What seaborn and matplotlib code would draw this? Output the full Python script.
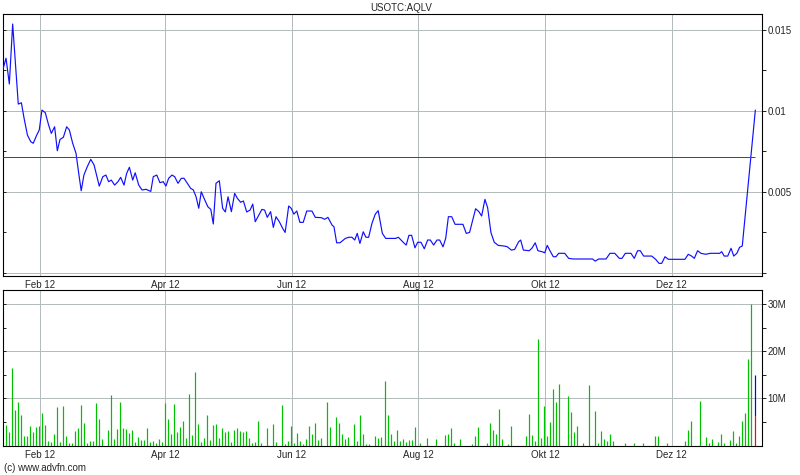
import matplotlib
matplotlib.use("Agg")
import matplotlib.pyplot as plt
import matplotlib.lines as mlines
import seaborn as sns
import pandas as pd
import numpy as np

# ---------------- data ----------------
title = "USOTC:AQLV"
footer = "(c) www.advfn.com"
base_date = "2012-01-01"

# price series: day offset from 2012-01-01 and price
price_day = [12.9, 14.5, 16.1, 17.7, 20.4, 21.9, 23.2, 24.8, 26.4, 27.6, 29.3, 30.5, 31.8, 33.4,
             35.0, 36.3, 37.9, 39.2, 40.5, 42.1, 43.7, 45.0, 46.6, 48.2, 49.5, 50.7, 52.0, 53.6,
             55.3, 56.9, 59.4, 61.1, 62.6, 63.9, 65.2, 66.8, 68.4, 69.7, 71.3, 72.6, 73.9, 75.5,
             76.7, 78.4, 80.0, 81.9, 84.2, 85.4, 87.1, 88.6, 90.2, 91.5, 92.8, 94.4, 95.7, 97.3,
             98.9, 100.2, 101.8, 103.4, 104.7, 106.0, 107.3, 108.5, 110.2, 111.7, 113.1, 114.3,
             115.6, 117.2, 118.8, 120.1, 121.4, 123.0, 124.6, 125.9, 127.5, 128.8, 130.4, 132.0,
             133.3, 134.5, 136.2, 137.7, 139.0, 140.3, 141.9, 143.2, 144.5, 146.1, 147.7, 148.9,
             150.6, 151.8, 153.1, 154.5, 156.0, 157.6, 159.3, 161.8, 163.4, 166.3, 167.9, 169.5,
             171.5, 172.4, 173.7, 175.3, 177.9, 179.5, 181.1, 182.4, 183.6, 184.9, 186.5, 187.8,
             189.1, 190.7, 192.3, 193.7, 195.7, 197.3, 202.1, 203.4, 204.7, 206.3, 207.2, 208.5,
             209.8, 211.4, 212.7, 214.3, 215.9, 217.5, 218.8, 220.4, 222.0, 223.3, 224.9, 226.2,
             227.5, 229.1, 230.7, 234.5, 236.1, 237.7, 240.6, 242.2, 243.5, 245.1, 246.4, 248.0,
             249.6, 251.5, 254.3, 255.8, 257.8, 259.4, 261.3, 262.3, 263.6, 266.4, 267.7, 269.3,
             270.6, 272.6, 273.9, 275.1, 276.4, 278.0, 279.3, 280.6, 283.5, 285.4, 287.6, 296.9,
             298.2, 299.9, 303.4, 305.3, 307.6, 309.8, 311.1, 312.7, 315.4, 317.0, 318.6, 319.9,
             321.5, 325.4, 327.3, 328.9, 330.2, 331.8, 333.4, 341.4, 343.0, 344.6, 345.9, 347.5,
             349.1, 351.4, 353.6, 358.1, 359.1, 360.3, 362.0, 363.6, 364.9, 366.4, 367.7, 369.0,
             375.3]
price = [0.01251, 0.01324, 0.01165, 0.01535, 0.01041, 0.01049, 0.00953, 0.00850, 0.00809, 0.00799,
         0.00850, 0.00881, 0.01004, 0.00988, 0.00912, 0.00860, 0.00901, 0.00753, 0.00823, 0.00836,
         0.00901, 0.00881, 0.00799, 0.00737, 0.00614, 0.00506, 0.00603, 0.00654, 0.00700, 0.00665,
         0.00535, 0.00593, 0.00603, 0.00562, 0.00572, 0.00541, 0.00562, 0.00589, 0.00541, 0.00614,
         0.00651, 0.00572, 0.00617, 0.00541, 0.00511, 0.00515, 0.00502, 0.00593, 0.00603, 0.00556,
         0.00562, 0.00535, 0.00583, 0.00603, 0.00593, 0.00552, 0.00583, 0.00583, 0.00552, 0.00521,
         0.00511, 0.00469, 0.00398, 0.00500, 0.00449, 0.00407, 0.00391, 0.00301, 0.00552, 0.00568,
         0.00398, 0.00375, 0.00469, 0.00377, 0.00490, 0.00459, 0.00435, 0.00443, 0.00375, 0.00387,
         0.00424, 0.00315, 0.00356, 0.00391, 0.00387, 0.00342, 0.00377, 0.00280, 0.00346, 0.00315,
         0.00274, 0.00249, 0.00412, 0.00398, 0.00362, 0.00381, 0.00311, 0.00311, 0.00381, 0.00381,
         0.00342, 0.00340, 0.00330, 0.00342, 0.00294, 0.00284, 0.00185, 0.00185, 0.00212, 0.00219,
         0.00219, 0.00202, 0.00243, 0.00181, 0.00253, 0.00219, 0.00219, 0.00305, 0.00362, 0.00383,
         0.00243, 0.00212, 0.00212, 0.00219, 0.00202, 0.00181, 0.00171, 0.00231, 0.00231, 0.00154,
         0.00188, 0.00188, 0.00148, 0.00202, 0.00202, 0.00171, 0.00202, 0.00202, 0.00160, 0.00212,
         0.00346, 0.00346, 0.00299, 0.00299, 0.00243, 0.00249, 0.00395, 0.00377, 0.00350, 0.00453,
         0.00401, 0.00247, 0.00188, 0.00169, 0.00165, 0.00161, 0.00140, 0.00144, 0.00191, 0.00202,
         0.00140, 0.00136, 0.00151, 0.00185, 0.00136, 0.00130, 0.00123, 0.00169, 0.00136, 0.00099,
         0.00099, 0.00120, 0.00120, 0.00089, 0.00085, 0.00085, 0.00072, 0.00085, 0.00085, 0.00120,
         0.00120, 0.00089, 0.00089, 0.00120, 0.00120, 0.00089, 0.00136, 0.00136, 0.00103, 0.00103,
         0.00083, 0.00058, 0.00058, 0.00099, 0.00083, 0.00083, 0.00114, 0.00103, 0.00089, 0.00136,
         0.00120, 0.00114, 0.00120, 0.00120, 0.00130, 0.00103, 0.00103, 0.00151, 0.00103, 0.00120,
         0.00157, 0.00165, 0.01004]

ref_level = 0.00716   # red horizontal line

# volume series (millions): day offset and volume
vol_day = [14.5, 15.9, 17.5, 19.0, 20.4, 21.9, 23.3, 24.7, 26.2, 27.6, 29.1, 30.5, 31.9, 33.4,
           34.9, 36.3, 37.7, 39.2, 40.6, 42.1, 43.5, 45.0, 46.4, 47.9, 49.3, 50.7, 52.2, 53.6,
           55.1, 56.5, 58.0, 59.4, 60.9, 63.7, 65.2, 66.6, 68.1, 69.5, 71.0, 72.4, 73.9, 75.3,
           76.7, 78.2, 79.6, 81.1, 82.5, 84.0, 85.4, 86.9, 88.3, 89.7, 91.2, 92.6, 94.1, 95.5,
           97.0, 98.4, 99.9, 101.3, 102.7, 104.2, 105.6, 107.1, 108.5, 110.0, 111.4, 112.9,
           114.3, 115.7, 117.2, 118.6, 120.1, 121.5, 123.0, 124.4, 125.9, 127.3, 128.7, 130.2,
           131.6, 133.1, 134.5, 136.0, 137.5, 140.4, 143.2, 144.6, 147.5, 149.0, 150.4, 151.9,
           153.3, 154.7, 156.2, 157.6, 159.1, 160.5, 162.0, 163.4, 164.9, 166.3, 169.2, 170.6,
           173.5, 175.0, 176.4, 177.8, 179.3, 182.2, 183.6, 185.1, 186.5, 188.0, 189.4, 192.3,
           193.7, 195.2, 197.1, 198.6, 200.0, 201.4, 202.9, 204.3, 205.8, 207.2, 208.7, 210.1,
           211.6, 213.8, 217.3, 221.7, 226.0, 227.4, 228.9, 230.3, 233.2, 239.0, 240.4, 241.9,
           246.2, 247.7, 249.1, 250.6, 252.0, 253.4, 256.3, 257.8, 265.0, 266.4, 267.7, 269.2,
           270.6, 272.1, 273.5, 275.0, 276.4, 277.9, 279.3, 280.7, 285.1, 286.5, 288.0, 289.4,
           292.3, 295.2, 298.1, 299.5, 301.0, 302.4, 303.9, 305.3, 306.7, 312.5, 316.9, 321.2,
           327.0, 328.4, 332.7, 341.4, 342.9, 344.3, 348.6, 351.5, 353.0, 354.4, 357.3, 358.7,
           360.2, 363.1, 364.5, 365.9, 367.4, 368.8, 370.3, 371.7, 373.2]
vol_m = [4.4, 3.0, 16.5, 7.6, 9.3, 6.5, 2.1, 2.1, 4.2, 2.8, 4.0, 4.2, 7.0, 4.4,
         1.0, 0.8, 2.5, 8.1, 0.8, 8.4, 2.0, 0.6, 0.6, 3.1, 3.8, 8.6, 4.8, 0.5,
         1.1, 1.1, 9.0, 5.7, 1.4, 3.3, 10.7, 1.4, 3.5, 9.3, 3.7, 3.5, 2.7, 3.3,
         0.8, 1.9, 1.2, 1.2, 3.8, 0.8, 1.0, 0.5, 1.4, 0.8, 9.0, 5.7, 2.5, 8.8,
         3.0, 4.0, 5.3, 1.7, 10.9, 2.3, 15.7, 4.6, 0.8, 1.7, 6.4, 1.2,
         4.4, 4.6, 1.7, 3.8, 2.8, 3.2, 0.8, 3.3, 3.8, 3.2, 2.8, 3.2,
         1.7, 0.5, 0.8, 5.3, 0.5, 3.8, 4.6, 0.8, 8.6, 0.35, 1.0, 4.2,
         0.6, 2.7, 1.0, 0.35, 1.4, 4.2, 2.5, 4.8, 1.2, 1.7, 9.3, 4.0,
         6.1, 4.8, 2.5, 1.4, 1.9, 4.6, 1.0, 6.5, 2.5, 0.35, 0.35, 2.1,
         1.7, 1.9, 13.7, 6.5, 2.5, 1.0, 3.3, 1.0, 1.4, 0.8, 1.2, 1.2,
         4.0, 0.6, 1.7, 1.4, 2.3, 2.5, 3.8, 0.6, 1.4, 0.35, 2.1, 4.0,
         0.5, 4.8, 3.3, 2.5, 7.8, 1.4, 0.35, 4.2, 2.1, 6.7, 2.3, 1.0,
         22.6, 1.7, 8.3, 2.1, 5.1, 12.0, 9.3, 13.1, 10.6, 7.2, 3.0, 4.2,
         0.6, 12.9, 7.3, 0.6, 3.1, 1.4, 1.1, 2.5, 1.0, 0.6, 0.5, 0.5,
         2.1, 2.1, 0.5, 1.0, 3.3, 5.3, 9.5, 1.9, 0.6, 1.4, 0.8, 2.5,
         0.5, 1.2, 3.1, 0.6, 2.1, 5.3, 7.0, 18.4, 30.0]
# latest day: red (down) part and blue (up) part
last_vol_day = 375.3
last_vol_red_m = 6.3
last_vol_blue_m = 8.7

tick_dates = ["2012-02-01", "2012-04-01", "2012-06-01", "2012-08-01", "2012-10-01", "2012-12-01"]
tick_labels = ["Feb 12", "Apr 12", "Jun 12", "Aug 12", "Okt 12", "Dez 12"]
price_ticks = [0.0, 0.005, 0.01, 0.015]
price_labels = ["", "0.005", "0.01", "0.015"]
vol_ticks_m = [10, 20, 30]
vol_labels = ["10M", "20M", "30M"]

# ---------------- drawing ----------------
sns.set_style("white")
plt.rcParams["font.family"] = ["Liberation Sans", "DejaVu Sans"]
FS = 7
GRID = "#b4bcbe"
PX = 0.72  # one pixel in points at 100 dpi

base = pd.Timestamp(base_date)
to_date = lambda d: base + pd.to_timedelta(np.asarray(d, dtype=float), unit="D")

df_price = pd.DataFrame({"date": to_date(price_day), "price": price})
vdates = to_date(vol_day)
xmin, xmax = to_date([12.9, 378.5])

W, H = 800, 475
fig = plt.figure(figsize=(W / 100, H / 100), dpi=100)
ax1 = fig.add_axes([2.7 / W, 1 - 276 / H, (762 - 2.7) / W, (276 - 14) / H])
ax2 = fig.add_axes([2.7 / W, 1 - 445.7 / H, (762 - 2.7) / W, (445.7 - 290.3) / H])

tdates = pd.to_datetime(tick_dates)

for ax in (ax1, ax2):
    ax.set_xlim(xmin, xmax)
    for sp in ax.spines.values():
        sp.set_color("black")
        sp.set_linewidth(1.1 * PX)
    for t in tdates:
        ax.axvline(t, color=GRID, lw=PX, zorder=0, snap=True)
    ax.set_xticks(tdates)
    ax.set_xticklabels(tick_labels, fontsize=FS)
    ax.tick_params(axis="x", direction="out", length=2, width=PX, pad=1.2, color="black")
    ax.tick_params(axis="y", which="both", left=True, right=True, labelleft=False,
                   labelright=True, direction="out", length=3, width=PX, pad=0.8, labelsize=FS)

# price panel
sns.lineplot(data=df_price, x="date", y="price", ax=ax1, color="#1010ff", lw=0.85, zorder=3)
ax1.hlines(ref_level, df_price["date"].iloc[0], df_price["date"].iloc[-1], color="#ff0000",
           lw=PX, zorder=4, snap=True)
ax1.set_ylim(-0.0002, 0.01597)
for v in price_ticks:
    ax1.axhline(v, color=GRID, lw=PX, zorder=0, snap=True)
ax1.set_yticks(price_ticks)
ax1.set_yticklabels(price_labels)
ax1.set_yticks([0.0025, 0.0075, 0.0125], minor=True)
ax1.set_xlabel("")
ax1.set_ylabel("")

# volume panel
BW = 1.2 * PX
ax2.vlines(vdates, 0, np.asarray(vol_m) * 1e6, color="#00c000", lw=BW, zorder=3, snap=True)
ld = to_date([last_vol_day])
ax2.vlines(ld, 0, last_vol_red_m * 1e6, color="#ff0000", lw=BW, zorder=3, snap=True)
ax2.vlines(ld, last_vol_red_m * 1e6, (last_vol_red_m + last_vol_blue_m) * 1e6,
           color="#0000ff", lw=BW, zorder=3, snap=True)
ax2.set_ylim(0, 32.9e6)
for v in vol_ticks_m:
    ax2.axhline(v * 1e6, color=GRID, lw=PX, zorder=0, snap=True)
ax2.set_yticks([v * 1e6 for v in vol_ticks_m])
ax2.set_yticklabels(vol_labels)
ax2.set_yticks([5e6, 15e6, 25e6], minor=True)

# left-side y ticks point inward, as in the reference
for ax in (ax1, ax2):
    for tk in ax.yaxis.get_major_ticks() + ax.yaxis.get_minor_ticks():
        tk.tick1line.set_marker(mlines.TICKRIGHT)
        tk.tick1line.set_markersize(2)

fig.text(401 / W, 1 - 8.3 / H, title, ha="center", va="center", fontsize=FS)
fig.text(4 / W, 1 - 468 / H, footer, ha="left", va="center", fontsize=FS)

fig.savefig("out.png", dpi=100)
